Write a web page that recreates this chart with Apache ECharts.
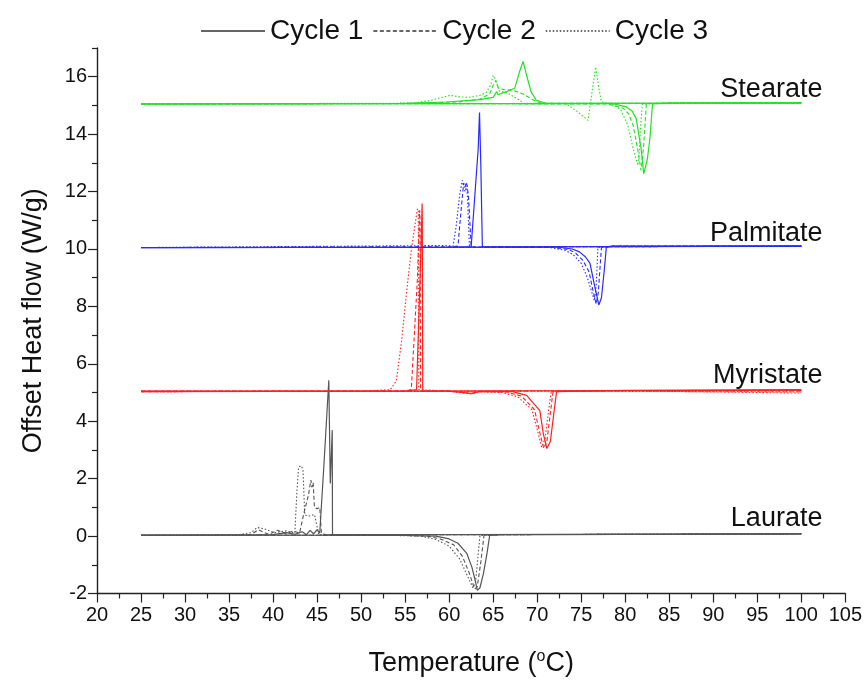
<!DOCTYPE html>
<html>
<head>
<meta charset="utf-8">
<script src="https://cdn.jsdelivr.net/npm/echarts@6/dist/echarts.min.js"></script>
<style>
html,body{margin:0;padding:0;background:#fff;}
#chart{width:865px;height:682px;}
</style>
</head>
<body>
<div id="chart"></div>
<script>
// ---------- tick labels ----------
var xTicks = [20,25,30,35,40,45,50,55,60,65,70,75,80,85,90,95,100,105];
var yTicks = [-2,0,2,4,6,8,10,12,14,16];
var yMinorTicks = [-1,1,3,5,7,9,11,13,15,17];
var cycleNames = ['Cycle 1','Cycle 2','Cycle 3'];
var sampleNames = ['Laurate','Myristate','Palmitate','Stearate'];

// ---------- Laurate (offset 0) ----------
var laurateC1Heat = [[25,0.03],[40,0.03],[55,0.02],[58.5,0.0],[60,-0.1],[61,-0.25],[62,-0.6],[62.6,-1.1],[63.0,-1.6],[63.2,-1.89],[63.5,-1.8],[63.9,-1.3],[64.3,-0.6],[64.6,0.02],[66,0.05],[80,0.06],[100,0.08]];
var laurateC2Heat = [[25,0.03],[40,0.03],[55,0.02],[57.5,0.0],[59,-0.1],[60.5,-0.3],[61.5,-0.7],[62.3,-1.3],[62.9,-1.85],[63.2,-1.75],[63.6,-0.9],[63.96,0.02],[66,0.05],[80,0.06],[100,0.08]];
var laurateC3Heat = [[25,0.03],[40,0.03],[54,0.02],[56.8,0.0],[58.5,-0.12],[60,-0.35],[61.2,-0.8],[62.1,-1.4],[62.7,-1.8],[63.0,-1.6],[63.5,0.02],[66,0.05],[80,0.06],[100,0.08]];
var laurateC1Cool = [[100,0.08],[80,0.06],[60,0.05],[47,0.05],[46.75,0.05],[46.72,3.69],[46.5,1.83],[46.33,5.43],[45.8,2.6],[45.3,0.1],[45.0,0.22],[44.6,0.08],[44.2,0.2],[43.8,0.05],[43.3,0.15],[42.5,0.06],[41.5,0.12],[40,0.05],[38,0.04],[25,0.03]];
var laurateC2Cool = [[100,0.08],[80,0.06],[60,0.05],[46,0.05],[45.5,0.08],[45.3,1.0],[45.0,0.95],[44.7,1.0],[44.55,1.86],[44.4,1.7],[44.3,1.95],[44.0,1.4],[43.5,0.8],[43.0,0.1],[42.3,0.18],[41.5,0.08],[40.5,0.2],[39.5,0.06],[38.3,0.22],[37.5,0.05],[25,0.02]];
var laurateC3Cool = [[100,0.08],[80,0.06],[60,0.05],[45.2,0.05],[45.0,0.1],[44.7,0.75],[44.1,0.7],[43.6,0.73],[43.4,2.3],[43.2,2.45],[42.9,2.4],[42.7,1.5],[42.47,0.1],[41.5,0.18],[40.2,0.12],[39,0.25],[38.2,0.3],[37.5,0.12],[36,0.04],[25,0.02]];

// ---------- Myristate (offset 5) ----------
var myristateC1Heat = [[25,5.05],[60,5.05],[62.5,4.97],[63.5,5.04],[67.2,5.03],[68.8,4.9],[70.3,4.37],[70.7,3.56],[71.1,3.05],[71.5,3.3],[71.9,4.3],[72.2,5.03],[80,5.08],[100,5.1]];
var myristateC2Heat = [[25,5.05],[60,5.05],[62.5,4.96],[63.5,5.03],[66.5,5.02],[68.2,4.88],[69.7,4.4],[70.3,3.6],[70.74,3.05],[71.1,3.3],[71.5,4.3],[71.8,5.03],[80,5.07],[100,5.05]];
var myristateC3Heat = [[25,5.05],[60,5.04],[62.5,4.95],[63.5,5.03],[66,5.0],[67.8,4.85],[69.4,4.4],[70.1,3.6],[70.5,3.1],[70.9,3.4],[71.3,4.4],[71.6,5.03],[80,5.06],[100,4.98]];
var myristateC1Cool = [[100,5.08],[70,5.06],[60,5.05],[57.0,5.05],[56.95,11.0],[56.93,11.58],[56.8,10.0],[56.3,5.1],[55,5.05],[40,5.04],[25,5.03]];
var myristateC2Cool = [[100,5.07],[70,5.06],[60,5.05],[56.75,5.05],[56.7,11.0],[56.65,11.35],[56.4,9.0],[55.7,5.1],[55,5.05],[40,5.04],[25,5.03]];
var myristateC3Cool = [[100,5.02],[70,5.05],[60,5.05],[56.55,5.1],[56.5,11.3],[56.4,11.4],[56.1,10.8],[55.7,9.95],[55.2,8.6],[54.6,6.8],[54.0,5.4],[53.3,5.1],[50,5.05],[40,5.04],[25,5.03]];

// ---------- Palmitate (offset 10) ----------
var palmitateC1Heat = [[25,10.05],[60,10.06],[72.5,10.06],[74,10.0],[74.8,9.9],[75.5,9.72],[76.0,9.5],[76.5,8.75],[77.0,8.05],[77.3,8.3],[77.6,9.2],[77.85,10.05],[78.5,10.1],[100,10.1]];
var palmitateC2Heat = [[25,10.05],[60,10.06],[72,10.05],[73.6,9.98],[74.4,9.85],[75.2,9.6],[75.9,9.2],[76.3,8.6],[76.7,8.08],[76.95,8.5],[77.15,9.4],[77.3,10.05],[78.5,10.1],[100,10.1]];
var palmitateC3Heat = [[25,10.05],[60,10.06],[71.5,10.05],[73.2,9.95],[74.1,9.8],[75.0,9.5],[75.7,9.0],[76.2,8.5],[76.5,8.2],[76.7,8.7],[76.9,10.05],[78.5,10.1],[100,10.1]];
var palmitateC1Cool = [[100,10.1],[80,10.08],[64,10.07],[63.77,10.1],[63.6,12.9],[63.55,12.9],[63.45,14.75],[63.3,13.5],[62.5,10.08],[60,10.06],[25,10.05]];
var palmitateC2Cool = [[100,10.1],[80,10.08],[63,10.07],[62.5,10.08],[62.2,11.8],[62.05,12.2],[61.95,12.33],[61.8,12.15],[61.65,12.3],[61.4,11.5],[61.0,10.1],[60.5,10.08],[25,10.05]];
var palmitateC3Cool = [[100,10.1],[80,10.08],[63,10.07],[62.3,10.08],[62.1,11.7],[62.0,12.2],[61.8,12.0],[61.5,12.39],[61.2,11.9],[60.8,10.8],[60.45,10.1],[59.5,10.12],[25,10.05]];

// ---------- Stearate (offset 15) ----------
var stearateC1Heat = [[25,15.05],[60,15.06],[78.6,15.06],[80.1,14.95],[80.8,14.8],[81.25,14.54],[81.8,13.5],[82.1,12.62],[82.5,13.1],[82.8,13.84],[83.1,15.05],[85,15.08],[100,15.1]];
var stearateC2Heat = [[25,15.05],[60,15.06],[78,15.05],[79.8,14.9],[80.4,14.7],[80.9,14.3],[81.4,13.5],[81.8,12.74],[82.1,13.6],[82.4,15.06],[85,15.08],[100,15.1]];
var stearateC3Heat = [[25,15.05],[60,15.06],[73.3,15.06],[74.5,14.8],[75.77,14.48],[76.2,15.4],[76.64,16.34],[77.0,15.6],[77.3,15.12],[78.5,15.05],[79.5,14.85],[80.3,14.3],[80.9,13.5],[81.45,12.91],[81.6,13.4],[81.8,14.5],[81.95,15.05],[85,15.08],[100,15.1]];
var stearateC1Cool = [[100,15.08],[71,15.07],[69.9,15.18],[69.3,15.47],[68.8,16.05],[68.4,16.53],[68.0,16.18],[67.45,15.6],[66.5,15.48],[65.55,15.37],[65.4,15.48],[65.0,15.28],[63.5,15.2],[59.7,15.12],[55,15.07],[25,15.05]];
var stearateC2Cool = [[100,15.08],[70.5,15.07],[69.5,15.2],[68.4,15.4],[67.2,15.53],[66.2,15.55],[65.6,15.6],[65.3,15.87],[65.0,15.7],[64.6,15.4],[63.5,15.22],[61,15.12],[55,15.07],[25,15.05]];
var stearateC3Cool = [[100,15.08],[68.5,15.07],[67.9,15.2],[66.5,15.45],[65.7,15.5],[65.2,15.95],[65.0,16.04],[64.7,15.7],[64.2,15.45],[63.5,15.35],[62.2,15.28],[61.2,15.3],[60.1,15.35],[57.8,15.17],[55.9,15.08],[25,15.05]];

// ---------- assemble ----------
var sampleColors = ['#555555','#ff2020','#2828ff','#22e022'];
var dashTypes = ['solid',[4,2.5],[1.5,2]];
var widths = [1.2,1.1,1.1];
var curves = [
  [[laurateC1Heat,laurateC1Cool],[laurateC2Heat,laurateC2Cool],[laurateC3Heat,laurateC3Cool]],
  [[myristateC1Heat,myristateC1Cool],[myristateC2Heat,myristateC2Cool],[myristateC3Heat,myristateC3Cool]],
  [[palmitateC1Heat,palmitateC1Cool],[palmitateC2Heat,palmitateC2Cool],[palmitateC3Heat,palmitateC3Cool]],
  [[stearateC1Heat,stearateC1Cool],[stearateC2Heat,stearateC2Cool],[stearateC3Heat,stearateC3Cool]]
];
var labelCoords = [[102.4,0.6],[102.4,5.58],[102.4,10.55],[102.4,15.56]];

var series = [];
cycleNames.forEach(function(n,c){
  series.push({name:n,type:'line',data:[],symbol:'none',color:'#666',
    lineStyle:{color:'#666',width:1.2,type:dashTypes[c]}});
});
curves.forEach(function(sample,s){
  sample.forEach(function(cyc,c){
    cyc.forEach(function(part,p){
      var ser = {
        name: sampleNames[s]+' '+cycleNames[c]+(p?' cool':' heat'),
        type:'line', data: part, symbol:'none', silent:true, z: 3 - c,
        lineStyle:{color:sampleColors[s],width:widths[c],type:dashTypes[c]},
        itemStyle:{color:sampleColors[s]}
      };
      if (c===0 && p===0) {
        ser.markPoint = {
          symbol:'circle', symbolSize:0, silent:true,
          data:[{name:sampleNames[s],coord:labelCoords[s]}],
          label:{show:true,position:'left',distance:0,formatter:'{b}',
            fontFamily:'Liberation Sans',fontSize:27,color:'#111'}
        };
      }
      series.push(ser);
    });
  });
});

var font = 'Liberation Sans';
var chart = echarts.init(document.getElementById('chart'),null,{renderer:'canvas'});
chart.setOption({
  animation:false,
  backgroundColor:'#fff',
  legend:{
    data:cycleNames, left:195, top:12, itemWidth:64, itemHeight:12, itemGap:9,
    itemStyle:{opacity:0,color:'rgba(0,0,0,0)',borderWidth:0},
    textStyle:{fontFamily:font,fontSize:28,color:'#111'}
  },
  grid:{left:97,right:19,top:48,bottom:87,containLabel:false},
  xAxis:[{
    type:'value', min:20, max:105, interval:5,
    name:'Temperature ({sup|o}C)', nameLocation:'middle', nameGap:55,
    nameTextStyle:{fontFamily:font,fontSize:27,color:'#111',
      rich:{sup:{fontFamily:font,fontSize:16,color:'#111',verticalAlign:'top',padding:[0,0,14,0]}}},
    axisLine:{show:true,onZero:false,lineStyle:{color:'#222',width:1.4}},
    axisTick:{show:true,inside:false,length:9,lineStyle:{color:'#222',width:1.2},customValues:xTicks},
    minorTick:{show:true,splitNumber:2,length:5,lineStyle:{color:'#222',width:1.2}},
    axisLabel:{fontFamily:font,fontSize:20,color:'#111',margin:12,customValues:xTicks},
    splitLine:{show:false}
  }],
  yAxis:[{
    type:'value', min:-2, max:17, interval:1,
    name:'Offset Heat flow (W/g)', nameLocation:'middle', nameGap:50, nameRotate:90,
    nameTextStyle:{fontFamily:font,fontSize:27,color:'#111'},
    axisLine:{show:true,onZero:false,lineStyle:{color:'#222',width:1.4}},
    axisTick:{show:true,inside:false,length:9,lineStyle:{color:'#222',width:1.2},customValues:yTicks},
    axisLabel:{fontFamily:font,fontSize:20,color:'#111',margin:10,customValues:yTicks},
    splitLine:{show:false}
  },{
    type:'value', min:-2, max:17, interval:1, position:'left', offset:0,
    axisLine:{show:false},
    axisTick:{show:true,inside:false,length:5,lineStyle:{color:'#222',width:1.2},customValues:yMinorTicks},
    axisLabel:{show:false},
    splitLine:{show:false}
  }],
  series:series
});
</script>
</body>
</html>
